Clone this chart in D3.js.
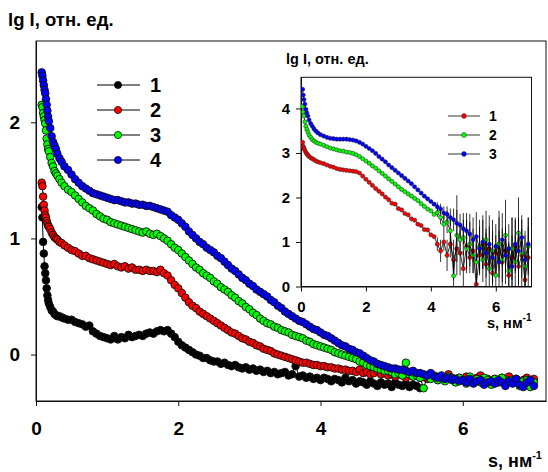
<!DOCTYPE html>
<html><head><meta charset="utf-8">
<script src="https://cdn.jsdelivr.net/npm/d3@7/dist/d3.min.js"></script>
<style>
body{margin:0;background:#fff}
text{font-family:"Liberation Sans",Arial,sans-serif;font-weight:bold;fill:#000}
</style>
</head><body>
<svg id="c" width="548" height="472"></svg>
<script>
// ---------- main chart data ----------
const sMain = [0.08,0.09,0.10,0.11,0.12,0.13,0.14,0.15,0.16,0.17,0.18,0.20,0.22,0.24,0.26,0.28,0.30,0.33,0.36,0.40,
0.45,0.50,0.55,0.60,0.65,0.70,0.75,0.80,0.85,0.90,
0.95,1.00,1.05,1.10,1.15,1.20,1.25,1.30,1.35,1.40,
1.45,1.50,1.55,1.60,1.65,1.70,1.75,1.80,1.85,1.90,
1.95,2.00,2.05,2.10,2.15,2.20,2.25,2.30,2.35,2.40,
2.45,2.50,2.55,2.60,2.65,2.70,2.75,2.80,2.85,2.90,
2.95,3.00,3.05,3.10,3.15,3.20,3.25,3.30,3.35,3.40,
3.45,3.50,3.55,3.60,3.65,3.70,3.75,3.80,3.85,3.90,
3.95,4.00,4.05,4.10,4.15,4.20,4.25,4.30,4.35,4.40,
4.45,4.50,4.55,4.60,4.65,4.70,4.75,4.80,4.85,4.90,
4.95,5.00,5.05,5.10,5.15,5.20,5.25,5.30,5.35,5.40,
5.45,5.50,5.55,5.60,5.65,5.70,5.75,5.80,5.85,5.90,
5.95,6.00,6.05,6.10,6.15,6.20,6.25,6.30,6.35,6.40,
6.45,6.50,6.55,6.60,6.65,6.70,6.75,6.80,6.85,6.90,
6.95,7.00];

const main1 = [1.27,1.18,0.97,0.87,0.76,0.70,0.64,0.57,0.51,0.47,0.44,0.41,0.38,0.37,0.35,0.34,0.33,0.33,0.32,0.31,
0.30,0.30,0.28,0.27,0.26,0.24,0.25,0.20,0.18,0.16,
0.15,0.14,0.13,0.16,0.13,0.15,0.14,0.17,0.15,0.16,
0.17,0.16,0.18,0.19,0.18,0.20,0.21,0.20,0.21,0.18,
0.15,0.11,0.08,0.06,0.04,0.02,0.00,-0.01,-0.03,-0.03,
-0.05,-0.06,-0.06,-0.08,-0.07,-0.09,-0.10,-0.09,-0.11,-0.12,
-0.11,-0.13,-0.12,-0.14,-0.13,-0.15,-0.14,-0.16,-0.15,-0.17,
-0.16,-0.15,-0.18,-0.17,-0.10,-0.19,-0.18,-0.20,-0.19,-0.21,
-0.20,-0.22,-0.20,-0.21,-0.23,-0.21,-0.22,-0.24,-0.20,-0.23,
-0.22,-0.25,-0.23,-0.24,-0.26,-0.23,-0.25,-0.27,-0.24,-0.26,
-0.25,-0.28,-0.24,-0.26,-0.27,-0.25,-0.28,-0.26,-0.27,-0.29];

const main2 = [1.48,1.45,1.36,1.29,1.24,1.20,1.18,1.15,1.13,1.11,1.10,1.08,1.05,1.03,1.01,1.00,0.99,0.97,0.96,0.94,
0.92,0.90,0.89,0.87,0.85,0.85,0.83,0.82,0.81,0.80,
0.79,0.78,0.77,0.78,0.76,0.75,0.76,0.74,0.75,0.73,
0.73,0.72,0.73,0.72,0.72,0.71,0.73,0.70,0.68,0.64,
0.60,0.57,0.53,0.49,0.45,0.42,0.40,0.37,0.35,0.33,
0.31,0.29,0.27,0.25,0.23,0.21,0.19,0.18,0.16,0.14,
0.13,0.11,0.10,0.08,0.07,0.05,0.04,0.03,0.01,0.00,
-0.01,-0.02,-0.03,-0.04,-0.05,-0.06,-0.07,-0.07,-0.08,-0.09,
-0.09,-0.10,-0.10,-0.11,-0.11,-0.12,-0.12,-0.13,-0.13,-0.14,
-0.14,-0.15,-0.13,-0.16,-0.15,-0.17,-0.16,-0.14,-0.17,-0.16,
-0.18,-0.17,-0.19,-0.16,-0.18,-0.20,-0.17,-0.19,-0.18,-0.20,
-0.19,-0.21,-0.18,-0.20,-0.22,-0.19,-0.21,-0.17,-0.20,-0.22,
-0.20,-0.22,-0.19,-0.21,-0.23,-0.20,-0.18,-0.22,-0.21,-0.23,
-0.21,-0.24,-0.20,-0.22,-0.19,-0.23,-0.21,-0.24,-0.22,-0.20,
-0.23,-0.21];

const main3 = [2.15,2.13,2.08,2.05,2.02,1.99,1.93,1.86,1.81,1.77,1.75,1.70,1.65,1.62,1.58,1.56,1.54,1.51,1.48,1.45,
1.42,1.40,1.37,1.34,1.31,1.28,1.26,1.24,1.21,1.19,
1.17,1.16,1.14,1.13,1.12,1.11,1.10,1.09,1.08,1.07,
1.06,1.05,1.06,1.04,1.03,1.04,1.02,1.00,0.98,0.95,
0.92,0.90,0.87,0.84,0.81,0.78,0.75,0.73,0.70,0.68,
0.66,0.63,0.61,0.58,0.56,0.54,0.51,0.49,0.46,0.44,
0.41,0.39,0.36,0.34,0.31,0.29,0.27,0.26,0.24,0.23,
0.21,0.20,0.19,0.17,0.16,0.15,0.14,0.12,0.11,0.09,
0.08,0.07,0.06,0.05,0.04,0.02,0.01,0.00,-0.01,-0.02,
-0.03,-0.04,-0.06,-0.07,-0.09,-0.10,-0.11,-0.12,-0.13,-0.14,
-0.14,-0.15,-0.17,-0.16,-0.18,-0.07,-0.17,-0.19,-0.18,-0.20,
-0.29,-0.19,-0.21,-0.18,-0.22,-0.20,-0.23,-0.19,-0.21,-0.24,
-0.20,-0.22,-0.25,-0.19,-0.23,-0.21,-0.24,-0.20,-0.22,-0.26,
-0.21,-0.23,-0.20,-0.25,-0.22,-0.24,-0.21,-0.27,-0.23,-0.22,
-0.28,-0.24];

const main4 = [2.43,2.40,2.36,2.32,2.28,2.25,2.20,2.15,2.10,2.05,2.01,1.95,1.88,1.83,1.80,1.77,1.73,1.69,1.66,1.62,
1.59,1.55,1.51,1.48,1.45,1.43,1.41,1.39,1.38,1.37,
1.36,1.35,1.34,1.33,1.33,1.32,1.31,1.31,1.30,1.30,
1.29,1.29,1.28,1.28,1.27,1.26,1.25,1.24,1.23,1.20,
1.18,1.16,1.13,1.10,1.06,1.03,1.00,0.97,0.95,0.92,
0.90,0.88,0.85,0.83,0.80,0.77,0.74,0.72,0.69,0.66,
0.64,0.61,0.59,0.56,0.54,0.52,0.50,0.47,0.45,0.42,
0.40,0.37,0.35,0.33,0.31,0.29,0.28,0.26,0.24,0.22,
0.21,0.19,0.17,0.16,0.14,0.12,0.10,0.08,0.07,0.05,
0.04,0.02,0.01,-0.01,-0.03,-0.05,-0.06,-0.08,-0.09,-0.10,
-0.11,-0.12,-0.12,-0.13,-0.13,-0.14,-0.15,-0.14,-0.16,-0.16,
-0.17,-0.18,-0.16,-0.19,-0.20,-0.18,-0.21,-0.20,-0.22,-0.21,
-0.23,-0.22,-0.24,-0.21,-0.25,-0.23,-0.22,-0.26,-0.24,-0.23,
-0.25,-0.22,-0.24,-0.27,-0.23,-0.25,-0.21,-0.26,-0.28,-0.24,
-0.22,-0.27];

const mainNames = ["1","2","3","4"];
const mainColors = ["#000000","#ff0000","#00ff00","#0000ff"];

// ---------- inset data ----------
const sIn = [0.05,0.07,0.09,0.12,0.15,0.18,0.21,0.25,0.30,0.35,0.40,0.46,0.52,0.60,
0.7,0.8,0.9,1.0,1.1,1.2,1.3,1.4,1.5,1.6,
1.7,1.8,1.9,2.0,2.1,2.2,2.3,2.4,2.5,2.6,
2.7,2.8,2.9,3.0,3.1,3.2,3.3,3.4,3.5,3.6,
3.7,3.8,3.9,4.0,4.1,4.2,4.3,4.4,4.5,4.6,
4.7,4.8,4.9,5.0,5.1,5.2,5.3,5.4,5.5,5.6,
5.7,5.8,5.9,6.0,6.1,6.2,6.3,6.4,6.5,6.6,
6.7,6.8,6.9,7.0];

const in1 = [3.24,3.15,3.10,3.06,3.01,2.98,2.95,2.92,2.89,2.87,2.85,2.82,2.80,2.78,
2.76,2.73,2.70,2.68,2.65,2.63,2.62,2.61,2.60,2.59,
2.58,2.55,2.48,2.41,2.34,2.27,2.20,2.14,2.08,2.01,
1.95,1.87,1.85,1.75,1.72,1.64,1.61,1.52,1.49,1.40,
1.37,1.28,1.27,1.16,1.12,0.95,0.80,1.00,0.70,0.95,
0.60,0.85,0.75,0.40,0.90,0.65,0.80,0.05,0.70,0.95,
0.50,0.85,0.30,0.75,0.95,0.55,0.80,0.25,0.65,0.90,
0.45,0.70,0.15,0.65];

const in2 = [4.05,3.92,3.83,3.70,3.60,3.53,3.47,3.40,3.35,3.30,3.27,3.24,3.22,3.20,
3.17,3.14,3.11,3.09,3.07,3.05,3.04,3.02,3.01,2.99,
2.96,2.92,2.87,2.82,2.77,2.71,2.66,2.60,2.54,2.48,
2.42,2.36,2.30,2.24,2.18,2.13,2.08,2.03,1.98,1.93,
1.86,1.80,1.74,1.70,1.62,1.66,1.55,1.40,1.45,1.25,
0.24,1.15,1.05,1.10,0.85,0.95,0.70,0.55,0.90,0.60,
1.05,0.40,0.80,0.25,0.95,0.60,1.15,0.35,0.85,0.55,
1.20,0.75,0.45,0.90];

const in3 = [4.43,4.30,4.20,4.10,3.98,3.90,3.83,3.74,3.66,3.60,3.54,3.49,3.45,3.41,
3.38,3.35,3.33,3.32,3.31,3.31,3.31,3.31,3.30,3.29,
3.27,3.24,3.20,3.15,3.10,3.05,2.99,2.92,2.86,2.80,
2.73,2.67,2.61,2.55,2.49,2.43,2.37,2.31,2.24,2.17,
2.10,2.03,1.97,1.91,1.85,1.79,1.74,1.65,1.62,1.55,
1.50,1.42,1.38,1.30,1.25,1.18,1.05,1.12,0.85,1.00,
0.75,0.95,0.65,0.90,0.55,1.05,0.70,0.85,0.45,0.95,
0.80,1.10,0.60,0.95];

// error bars for the last points (s = 4.2 ... 7.0)
const errStartS = 4.2;
const err1 = [0.15,0.25,0.2,0.35,0.3,0.45,0.3,0.5,0.4,0.6,0.35,0.5,0.9,0.45,0.55,0.7,0.5,0.8,0.4,0.6,0.75,0.5,0.7,0.9,0.6,0.55,0.8,0.5,0.7];
const err2 = [0.1,0.15,0.2,0.25,0.3,0.35,0.9,0.35,0.4,0.45,0.5,0.4,0.55,0.6,0.5,0.65,0.55,0.7,0.6,0.75,0.5,0.8,0.65,0.7,0.6,0.8,0.55,0.7,0.65];
const err3 = [0.1,0.12,0.15,0.18,0.2,0.25,0.3,0.25,0.35,0.4,0.45,0.5,0.55,0.5,0.6,0.55,0.65,0.6,0.5,0.7,0.6,0.65,0.55,0.7,0.6,0.75,0.5,0.65,0.6];

const inNames = ["1","2","3"];
const inColors = ["#ff0000","#00ff00","#0000ff"];

const mainTicksX = [0,2,4,6];
const mainTicksY = [0,1,2];
const inTicksX = [0,2,4,6];
const inTicksY = [0,1,2,3,4];

// ---------- drawing ----------
const svg = d3.select("#c");
const F = '"Liberation Sans",Arial,sans-serif';

const x = d3.scaleLinear().domain([0,7.17]).range([36,546]);
const y = d3.scaleLinear().domain([-0.4,2.7]).range([401,41]);

svg.append("rect").attr("x",36).attr("y",41).attr("width",510).attr("height",360)
  .attr("fill","#fff").attr("stroke","#111").attr("stroke-width",1);

const ax = svg.append("g").attr("transform","translate(0,401)")
  .call(d3.axisBottom(x).tickValues(mainTicksX).tickFormat(d3.format("d")).tickSize(5).tickSizeOuter(0).tickPadding(16));
const ay = svg.append("g").attr("transform","translate(36,0)")
  .call(d3.axisLeft(y).tickValues(mainTicksY).tickFormat(d3.format("d")).tickSize(5).tickSizeOuter(0).tickPadding(11));
[ax,ay].forEach(g=>{
  g.select(".domain").attr("stroke","#111");
  g.selectAll(".tick line").attr("stroke","#111");
  g.selectAll("text").attr("font-size",19).attr("font-weight","bold").attr("font-family",F).attr("fill","#000");
});

const mainSeries = [main1,main2,main3,main4];
const line = d3.line().x(d=>x(d[0])).y(d=>y(d[1]));
mainSeries.forEach((vals,i)=>{
  const pts = vals.map((v,j)=>[sMain[j],v]);
  svg.append("path").attr("d",line(pts)).attr("fill","none").attr("stroke","#000").attr("stroke-width",1);
  svg.append("g").selectAll("circle").data(pts).join("circle")
    .attr("cx",d=>x(d[0])).attr("cy",d=>y(d[1])).attr("r",3.8)
    .attr("fill",mainColors[i]).attr("stroke","#111").attr("stroke-width",0.9);
});

// main legend
const lg = svg.append("g");
mainNames.forEach((n,i)=>{
  const yy = 85 + i*25;
  lg.append("line").attr("x1",97).attr("x2",140).attr("y1",yy).attr("y2",yy).attr("stroke","#000").attr("stroke-width",1);
  lg.append("circle").attr("cx",118).attr("cy",yy).attr("r",3.6).attr("fill",mainColors[i]).attr("stroke","#111").attr("stroke-width",0.8);
  lg.append("text").attr("x",150).attr("y",yy+7).attr("font-size",20).text(n);
});

// main axis titles
svg.append("text").attr("x",8).attr("y",26).attr("font-size",18.5).text("lg I, отн. ед.");
const xt = svg.append("text").attr("x",488).attr("y",467).attr("font-size",18);
xt.append("tspan").text("s, нм");
xt.append("tspan").attr("dy",-8).attr("font-size",11).text("-1");

// ---------- inset ----------
const xi = d3.scaleLinear().domain([0,7.1]).range([301,531.5]);
const yi = d3.scaleLinear().domain([0,4.7]).range([286.5,77.3]);

svg.append("rect").attr("x",301).attr("y",77.3).attr("width",230.5).attr("height",209.2)
  .attr("fill","#fff").attr("stroke","#111").attr("stroke-width",1);
svg.append("defs").append("clipPath").attr("id","ic").append("rect")
  .attr("x",301).attr("y",77.3).attr("width",230.5).attr("height",209.2);

const iax = svg.append("g").attr("transform","translate(0,286.5)")
  .call(d3.axisBottom(xi).tickValues(inTicksX).tickFormat(d3.format("d")).tickSize(5).tickSizeOuter(0).tickPadding(10));
const iay = svg.append("g").attr("transform","translate(301,0)")
  .call(d3.axisLeft(yi).tickValues(inTicksY).tickFormat(d3.format("d")).tickSize(5).tickSizeOuter(0).tickPadding(6));
[iax,iay].forEach(g=>{
  g.select(".domain").attr("stroke","#111");
  g.selectAll(".tick line").attr("stroke","#111");
  g.selectAll("text").attr("font-size",15).attr("font-weight","bold").attr("font-family",F).attr("fill","#000");
});

const inSeries = [in1,in2,in3];
const inErr = [err1,err2,err3];
const errStart = sIn.indexOf(errStartS);
const il = d3.line().x(d=>xi(d[0])).y(d=>yi(d[1]));
const ig = svg.append("g").attr("clip-path","url(#ic)");
inSeries.forEach((vals,i)=>{
  const pts = vals.map((v,j)=>[sIn[j],v]);
  ig.append("path").attr("d",il(pts)).attr("fill","none").attr("stroke","#000").attr("stroke-width",0.8);
  const e = inErr[i];
  ig.append("g").selectAll("line").data(e).join("line")
    .attr("x1",(d,k)=>xi(sIn[errStart+k])).attr("x2",(d,k)=>xi(sIn[errStart+k]))
    .attr("y1",(d,k)=>yi(vals[errStart+k]-d)).attr("y2",(d,k)=>yi(vals[errStart+k]+d))
    .attr("stroke","#000").attr("stroke-width",0.8);
  ig.append("g").selectAll("circle").data(pts).join("circle")
    .attr("cx",d=>xi(d[0])).attr("cy",d=>yi(d[1])).attr("r",2.1)
    .attr("fill",inColors[i]).attr("stroke","#222").attr("stroke-width",0.5);
});

// inset legend
inNames.forEach((n,i)=>{
  const yy = 116 + i*19;
  svg.append("line").attr("x1",448).attr("x2",480).attr("y1",yy).attr("y2",yy).attr("stroke","#000").attr("stroke-width",0.8);
  svg.append("circle").attr("cx",464).attr("cy",yy).attr("r",2.4).attr("fill",inColors[i]).attr("stroke","#222").attr("stroke-width",0.5);
  svg.append("text").attr("x",489).attr("y",yy+5).attr("font-size",14).text(n);
});

svg.append("text").attr("x",286).attr("y",64).attr("font-size",14.5).text("lg I, отн. ед.");
const ixt = svg.append("text").attr("x",487).attr("y",328).attr("font-size",14.5);
ixt.append("tspan").text("s, нм");
ixt.append("tspan").attr("dy",-7).attr("font-size",10).text("-1");
</script>
</body></html>
